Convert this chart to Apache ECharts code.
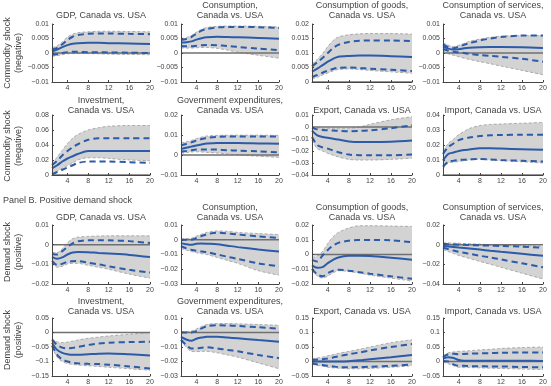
<!DOCTYPE html>
<html>
<head>
<meta charset="utf-8">
<script src="https://cdn.jsdelivr.net/npm/echarts@6/dist/echarts.min.js"></script>
<style>body{margin:0;background:#fff}</style>
</head>
<body>
<div id="main" style="width:551px;height:386px;"></div>
<script>
// horizons (quarters) at which values are read
var horizons = [1, 2, 3, 4, 5, 6, 8, 10, 12, 16, 20];
var xTicks = [4, 8, 12, 16, 20];

// each panel: outer upper, inner upper, median, inner lower, outer lower
var cmdGdp = [
  [0.0018, 0.0025, 0.0038, 0.0055, 0.0065, 0.007, 0.0073, 0.0075, 0.0075, 0.0074, 0.0073],
  [0.0012, 0.0018, 0.003, 0.0045, 0.0056, 0.0062, 0.0066, 0.0067, 0.0067, 0.0066, 0.0065],
  [0.0005, 0.0012, 0.002, 0.0027, 0.0032, 0.0034, 0.0035, 0.0035, 0.0034, 0.0033, 0.0031],
  [-0.0006, -0.0004, 0.0, 0.0003, 0.0004, 0.0004, 0.0003, 0.0003, 0.0002, 0.0001, 0.0],
  [-0.0012, -0.0009, -0.0006, -0.0003, -0.0002, -0.0002, -0.0002, -0.0003, -0.0004, -0.0005, -0.0006]
];
var cmdCons = [
  [0.005, 0.0053, 0.006, 0.0072, 0.0082, 0.0088, 0.0092, 0.0093, 0.0093, 0.0092, 0.009],
  [0.0045, 0.0048, 0.0055, 0.0067, 0.0077, 0.0083, 0.0088, 0.009, 0.009, 0.0089, 0.0086],
  [0.0036, 0.0037, 0.004, 0.0046, 0.0051, 0.0054, 0.0056, 0.0055, 0.0054, 0.0052, 0.0049],
  [0.0024, 0.0023, 0.0023, 0.0025, 0.0027, 0.0028, 0.0027, 0.0024, 0.0021, 0.0015, 0.001],
  [0.0018, 0.0017, 0.0017, 0.0018, 0.0019, 0.0019, 0.0016, 0.001, 0.0003, -0.0008, -0.0018]
];
var cmdGoods = [
  [0.0062, 0.0078, 0.0098, 0.0122, 0.0143, 0.0155, 0.0163, 0.0166, 0.0167, 0.0167, 0.0165],
  [0.0054, 0.0068, 0.0083, 0.01, 0.0117, 0.0128, 0.0138, 0.0142, 0.0143, 0.0143, 0.0141],
  [0.0036, 0.0046, 0.0058, 0.007, 0.008, 0.0087, 0.009, 0.0091, 0.0091, 0.0089, 0.0086],
  [0.0017, 0.0024, 0.0032, 0.0039, 0.0045, 0.0049, 0.005, 0.0048, 0.0046, 0.0042, 0.0038],
  [0.001, 0.0016, 0.0024, 0.0031, 0.0038, 0.0043, 0.0045, 0.0043, 0.004, 0.0035, 0.003]
];
var cmdServ = [
  [0.0036, 0.0027, 0.0022, 0.0027, 0.0033, 0.004, 0.0048, 0.0054, 0.0058, 0.006, 0.006],
  [0.003, 0.002, 0.0016, 0.0022, 0.0028, 0.0034, 0.0043, 0.005, 0.0055, 0.006, 0.006],
  [0.0022, 0.0015, 0.0012, 0.0013, 0.0016, 0.0018, 0.002, 0.0021, 0.0021, 0.002, 0.0017],
  [0.0014, 0.0008, 0.0004, 0.0002, 0.0, -0.0003, -0.0007, -0.001, -0.0013, -0.002, -0.003],
  [0.0008, -0.0003, -0.0008, -0.0013, -0.0018, -0.0022, -0.003, -0.0037, -0.0045, -0.006, -0.0075]
];
var cmdInv = [
  [0.015, 0.024, 0.033, 0.042, 0.049, 0.054, 0.06, 0.063, 0.065, 0.066, 0.066],
  [0.013, 0.019, 0.026, 0.032, 0.037, 0.041, 0.047, 0.049, 0.049, 0.049, 0.049],
  [0.009, 0.013, 0.018, 0.022, 0.025, 0.028, 0.032, 0.032, 0.032, 0.032, 0.032],
  [0.001, 0.004, 0.007, 0.01, 0.013, 0.016, 0.018, 0.018, 0.018, 0.017, 0.016],
  [0.0, 0.005, 0.009, 0.0124, 0.016, 0.02, 0.023, 0.023, 0.022, 0.02, 0.019]
];
var cmdGov = [
  [0.006, 0.0066, 0.0073, 0.0082, 0.009, 0.0095, 0.0098, 0.0099, 0.0099, 0.0099, 0.0098],
  [0.0048, 0.0055, 0.0063, 0.0072, 0.008, 0.0086, 0.0091, 0.0093, 0.0093, 0.0093, 0.0093],
  [0.003, 0.0036, 0.0042, 0.0048, 0.0053, 0.0057, 0.006, 0.006, 0.006, 0.0058, 0.0056],
  [0.0016, 0.002, 0.0024, 0.0027, 0.0028, 0.0028, 0.0027, 0.0024, 0.0022, 0.0018, 0.0013],
  [0.0008, 0.0012, 0.0015, 0.0016, 0.0015, 0.0013, 0.001, 0.0005, 0.0, -0.0006, -0.0012]
];
var cmdExp = [
  [0.0, -0.0005, -0.001, -0.001, -0.001, -0.001, -0.001, 0.0, 0.0022, 0.006, 0.0085],
  [-0.0005, -0.002, -0.0025, -0.0028, -0.003, -0.0032, -0.0035, -0.0033, -0.0028, -0.001, 0.0014],
  [-0.003, -0.007, -0.0083, -0.009, -0.0098, -0.0105, -0.012, -0.0125, -0.0125, -0.0122, -0.0112],
  [-0.0083, -0.015, -0.017, -0.018, -0.0195, -0.021, -0.023, -0.0235, -0.0236, -0.0236, -0.023],
  [-0.011, -0.018, -0.02, -0.022, -0.0235, -0.025, -0.027, -0.0275, -0.0275, -0.027, -0.026]
];
var cmdImp = [
  [0.016, 0.021, 0.024, 0.027, 0.029, 0.031, 0.033, 0.0337, 0.034, 0.0345, 0.035],
  [0.014, 0.0187, 0.021, 0.0233, 0.0243, 0.025, 0.026, 0.0265, 0.0267, 0.0268, 0.0268],
  [0.0096, 0.014, 0.015, 0.016, 0.0166, 0.017, 0.0178, 0.0178, 0.0176, 0.0172, 0.0168],
  [0.0055, 0.009, 0.0095, 0.01, 0.0102, 0.0104, 0.0107, 0.0104, 0.01, 0.0095, 0.009],
  [0.004, 0.008, 0.0085, 0.009, 0.0095, 0.01, 0.0105, 0.01, 0.0095, 0.0088, 0.008]
];
var dmdGdp = [
  [-0.004, -0.004, -0.002, 0.001, 0.003, 0.0038, 0.0042, 0.0044, 0.0045, 0.0045, 0.0045],
  [-0.0047, -0.005, -0.0033, -0.0012, 0.0007, 0.0017, 0.0023, 0.0023, 0.0022, 0.0018, 0.0008],
  [-0.0062, -0.0072, -0.0065, -0.005, -0.004, -0.0037, -0.0038, -0.0042, -0.0045, -0.0052, -0.0063],
  [-0.0083, -0.0103, -0.0097, -0.0087, -0.0084, -0.0083, -0.0092, -0.01, -0.011, -0.0128, -0.0142],
  [-0.0095, -0.0115, -0.011, -0.0098, -0.0095, -0.0095, -0.0105, -0.0115, -0.0125, -0.015, -0.017]
];
var dmdCons = [
  [0.0005, 0.0007, 0.001, 0.0025, 0.0038, 0.005, 0.006, 0.0057, 0.005, 0.0042, 0.0035],
  [0.0, 0.0, 0.0, 0.0012, 0.0025, 0.0037, 0.0048, 0.0043, 0.0036, 0.0023, 0.0011],
  [-0.0023, -0.003, -0.0034, -0.0027, -0.0026, -0.0027, -0.003, -0.004, -0.005, -0.0066, -0.008],
  [-0.0043, -0.0058, -0.0068, -0.0075, -0.008, -0.0084, -0.01, -0.0115, -0.013, -0.016, -0.018],
  [-0.006, -0.007, -0.008, -0.0088, -0.0095, -0.01, -0.012, -0.014, -0.016, -0.021, -0.024]
];
var dmdGoods = [
  [-0.002, -0.001, 0.002, 0.0075, 0.012, 0.015, 0.018, 0.0195, 0.0195, 0.0193, 0.019],
  [-0.0036, -0.0047, -0.0007, 0.0031, 0.006, 0.0079, 0.0094, 0.0098, 0.0099, 0.0096, 0.0083],
  [-0.0074, -0.009, -0.0085, -0.0058, -0.0036, -0.002, -0.0009, -0.0008, -0.0011, -0.0022, -0.0036],
  [-0.0097, -0.0135, -0.0148, -0.0126, -0.011, -0.0103, -0.011, -0.012, -0.013, -0.0148, -0.0164],
  [-0.011, -0.0145, -0.016, -0.0145, -0.0125, -0.011, -0.0115, -0.0125, -0.014, -0.016, -0.018]
];
var dmdServ = [
  [0.002, 0.0018, 0.0016, 0.0015, 0.0012, 0.001, 0.0005, 0.0, -0.0005, -0.001, -0.0015],
  [0.0007, 0.0005, 0.0002, 0.0, -0.0002, -0.0004, -0.0007, -0.001, -0.0013, -0.002, -0.003],
  [-0.0013, -0.0018, -0.0024, -0.003, -0.0035, -0.004, -0.005, -0.0062, -0.0073, -0.0093, -0.0113],
  [-0.003, -0.0045, -0.006, -0.0073, -0.0083, -0.0093, -0.0113, -0.013, -0.015, -0.019, -0.023],
  [-0.005, -0.007, -0.009, -0.011, -0.0125, -0.014, -0.017, -0.02, -0.023, -0.029, -0.035]
];
var dmdInv = [
  [-0.02, -0.032, -0.035, -0.033, -0.03, -0.026, -0.02, -0.016, -0.012, -0.006, 0.0],
  [-0.025, -0.043, -0.052, -0.055, -0.053, -0.05, -0.043, -0.038, -0.035, -0.033, -0.032],
  [-0.035, -0.06, -0.07, -0.075, -0.077, -0.077, -0.075, -0.073, -0.072, -0.075, -0.079],
  [-0.045, -0.077, -0.093, -0.1, -0.104, -0.106, -0.108, -0.109, -0.111, -0.117, -0.124],
  [-0.05, -0.085, -0.1, -0.107, -0.11, -0.112, -0.115, -0.117, -0.12, -0.125, -0.13]
];
var dmdGov = [
  [0.0005, 0.0007, 0.001, 0.0025, 0.0042, 0.0055, 0.0062, 0.0062, 0.006, 0.0055, 0.005],
  [0.0, 0.0, 0.0, 0.001, 0.0028, 0.0043, 0.005, 0.0048, 0.0045, 0.0036, 0.0027],
  [-0.003, -0.0048, -0.0057, -0.0043, -0.0035, -0.003, -0.003, -0.0035, -0.004, -0.0052, -0.0064],
  [-0.005, -0.0086, -0.011, -0.011, -0.0105, -0.0102, -0.011, -0.012, -0.013, -0.0155, -0.0177],
  [-0.006, -0.01, -0.013, -0.0132, -0.013, -0.013, -0.014, -0.0155, -0.017, -0.021, -0.025]
];
var dmdExp = [
  [0.01, 0.012, 0.015, 0.02, 0.024, 0.028, 0.035, 0.042, 0.05, 0.065, 0.075],
  [0.005, 0.007, 0.008, 0.01, 0.014, 0.018, 0.025, 0.031, 0.038, 0.05, 0.06],
  [0.0, 0.0, 0.0, 0.0, 0.0, 0.0, 0.001, 0.004, 0.008, 0.015, 0.022],
  [-0.007, -0.01, -0.012, -0.015, -0.017, -0.019, -0.02, -0.019, -0.018, -0.015, -0.01],
  [-0.01, -0.013, -0.016, -0.02, -0.022, -0.023, -0.025, -0.025, -0.024, -0.02, -0.015]
];
var dmdImp = [
  [0.02, 0.03, 0.033, 0.035, 0.036, 0.037, 0.04, 0.042, 0.045, 0.048, 0.05],
  [0.015, 0.025, 0.027, 0.025, 0.026, 0.027, 0.028, 0.029, 0.03, 0.031, 0.031],
  [0.01, 0.015, 0.012, 0.005, 0.003, 0.003, 0.003, 0.003, 0.003, 0.0025, 0.002],
  [0.002, 0.0, -0.01, -0.015, -0.015, -0.016, -0.016, -0.017, -0.017, -0.019, -0.02],
  [-0.002, -0.008, -0.015, -0.02, -0.021, -0.021, -0.022, -0.023, -0.024, -0.026, -0.028]
];

var panels = [cmdGdp, cmdCons, cmdGoods, cmdServ, cmdInv, cmdGov, cmdExp, cmdImp,
              dmdGdp, dmdCons, dmdGoods, dmdServ, dmdInv, dmdGov, dmdExp, dmdImp];

var titles = [
  ['GDP, Canada vs. USA'], ['Consumption,', 'Canada vs. USA'],
  ['Consumption of goods,', 'Canada vs. USA'], ['Consumption of services,', 'Canada vs. USA'],
  ['Investment,', 'Canada vs. USA'], ['Government expenditures,', 'Canada vs. USA'],
  ['Export, Canada vs. USA'], ['Import, Canada vs. USA'],
  ['GDP, Canada vs. USA'], ['Consumption,', 'Canada vs. USA'],
  ['Consumption of goods,', 'Canada vs. USA'], ['Consumption of services,', 'Canada vs. USA'],
  ['Investment,', 'Canada vs. USA'], ['Government expenditures,', 'Canada vs. USA'],
  ['Export, Canada vs. USA'], ['Import, Canada vs. USA']
];

// y axis: min, max, tick step
var yRanges = [
  [-0.01, 0.01, 0.005], [-0.01, 0.01, 0.005], [0, 0.02, 0.005], [-0.01, 0.01, 0.005],
  [0, 0.08, 0.02], [-0.01, 0.02, 0.01], [-0.04, 0.01, 0.01], [0, 0.04, 0.01],
  [-0.02, 0.01, 0.01], [-0.03, 0.01, 0.01], [-0.02, 0.02, 0.01], [-0.04, 0.02, 0.02],
  [-0.15, 0.05, 0.05], [-0.03, 0.01, 0.01], [-0.05, 0.15, 0.05], [-0.05, 0.15, 0.05]
];

var rowLabels = [['Commodity shock', '(negative)'], ['Commodity shock', '(negative)'],
                 ['Demand shock', '(positive)'], ['Demand shock', '(positive)']];
var panelNote = 'Panel B. Positive demand shock';

var colLeft = [52, 181, 312, 443], colWidth = [98, 98, 100, 100];
var rowTop = [24, 115, 225, 318], rowHeight = [58, 60, 59, 59];
var titleY = [16, 110.5, 217.5, 311.5];
var labelY = [53, 146, 252, 340];

var blue = '#2b5ba9', band = '#d3d3d3', bandEdge = '#9c9c9c', ink = '#444';
var font = '"Liberation Sans", Arial, sans-serif';

function pairs(vals) {
  return horizons.map(function (h, k) { return [h, vals[k]]; });
}
function fmt(v) {
  var s = String(Math.round(v * 1e6) / 1e6);
  return s.replace('-', '\u2212');
}

var grids = [], xAxes = [], yAxes = [], series = [], graphics = [];

panels.forEach(function (p, i) {
  var r = Math.floor(i / 4), c = i % 4;
  var yr = yRanges[i];
  grids.push({left: colLeft[c], top: rowTop[r], width: colWidth[c], height: rowHeight[r]});
  xAxes.push({
    gridIndex: i, type: 'value', min: 1, max: 20, z: 10,
    axisLine: {onZero: false, lineStyle: {color: ink, width: 1}},
    axisTick: {show: true, inside: true, length: 2, customValues: xTicks, lineStyle: {color: ink}},
    axisLabel: {customValues: xTicks, fontSize: 7, color: ink, margin: 3, fontFamily: font},
    splitLine: {show: false}
  });
  yAxes.push({
    gridIndex: i, type: 'value', min: yr[0], max: yr[1], interval: yr[2], z: 10,
    axisLine: {show: true, onZero: false, lineStyle: {color: ink, width: 1}},
    axisTick: {show: true, inside: true, length: 2, lineStyle: {color: ink}},
    axisLabel: {fontSize: 7, color: ink, margin: 3, fontFamily: font, formatter: fmt},
    splitLine: {show: false}
  });

  var outU = p[0], inU = p[1], med = p[2], inL = p[3], outL = p[4];
  var common = {xAxisIndex: i, yAxisIndex: i, type: 'line', symbol: 'none', smooth: 0.3,
                silent: true, animation: false};
  // band: grey down to the axis floor from the upper edge, then white from the lower edge
  series.push(Object.assign({}, common, {
    data: pairs(outU), lineStyle: {opacity: 0},
    areaStyle: {color: band, opacity: 1, origin: 'start'}
  }));
  series.push(Object.assign({}, common, {
    data: pairs(outL), lineStyle: {opacity: 0},
    areaStyle: {color: '#fff', opacity: 1, origin: 'start'}
  }));
  [outU, outL].forEach(function (d) {
    series.push(Object.assign({}, common, {
      data: pairs(d), lineStyle: {color: bandEdge, width: 0.8, type: [3, 2]}
    }));
  });
  series.push(Object.assign({}, common, {
    data: [[1, 0], [20, 0]], smooth: false,
    lineStyle: {color: '#707070', width: 1.5}
  }));
  [inU, inL].forEach(function (d) {
    series.push(Object.assign({}, common, {
      data: pairs(d), lineStyle: {color: blue, width: 2, type: [6, 4]}
    }));
  });
  series.push(Object.assign({}, common, {
    data: pairs(med), lineStyle: {color: blue, width: 2}
  }));

  var cx = colLeft[c] + colWidth[c] / 2;
  var t = titles[i];
  t.forEach(function (line, k) {
    graphics.push({type: 'text', x: cx, y: titleY[r] - (t.length - 1 - k) * 10,
      style: {text: line, align: 'center', verticalAlign: 'middle', fontSize: 9,
              fontFamily: font, fill: ink}});
  });
});

rowLabels.forEach(function (lab, r) {
  graphics.push({type: 'text', x: 8, y: labelY[r], rotation: Math.PI / 2,
    style: {text: lab[0], align: 'center', verticalAlign: 'middle', fontSize: 9, fontFamily: font, fill: ink}});
  graphics.push({type: 'text', x: 19, y: labelY[r], rotation: Math.PI / 2,
    style: {text: lab[1], align: 'center', verticalAlign: 'middle', fontSize: 9, fontFamily: font, fill: ink}});
});
graphics.push({type: 'text', x: 3, y: 200.5,
  style: {text: panelNote, align: 'left', verticalAlign: 'middle', fontSize: 9, fontFamily: font, fill: ink}});

var myChart = echarts.init(document.getElementById('main'));
myChart.setOption({
  animation: false,
  grid: grids,
  xAxis: xAxes,
  yAxis: yAxes,
  series: series,
  graphic: graphics
});
</script>
</body>
</html>
